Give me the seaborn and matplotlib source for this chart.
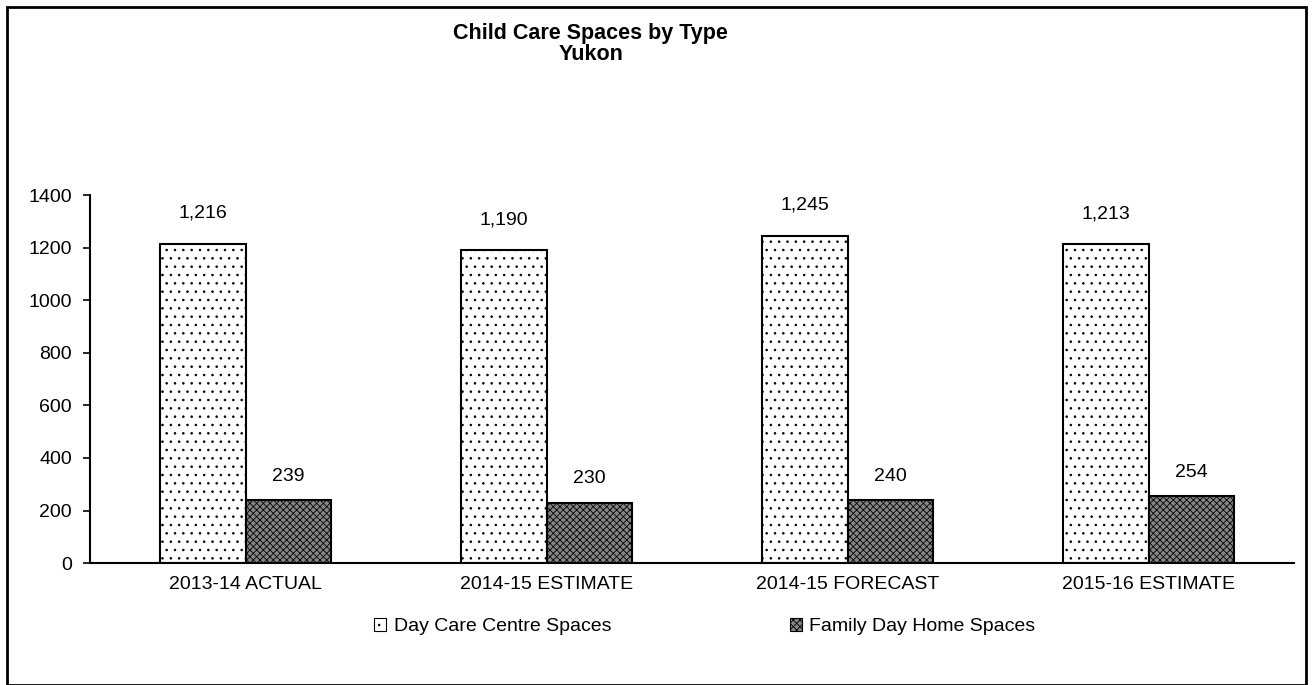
import pandas as pd
import matplotlib
matplotlib.use("Agg")
import matplotlib.pyplot as plt
import matplotlib.patches as mpatches
import seaborn as sns

periods = ["2013-14 ACTUAL", "2014-15 ESTIMATE", "2014-15 FORECAST", "2015-16 ESTIMATE"]
day_care = [1216, 1190, 1245, 1213]
family_home = [239, 230, 240, 254]
series_names = ["Day Care Centre Spaces", "Family Day Home Spaces"]

sns.set_style("white")
plt.rcParams['font.family'] = ['Liberation Sans', 'DejaVu Sans']
plt.rcParams['hatch.linewidth'] = 0.6
plt.rcParams['text.color'] = 'black'
plt.rcParams['xtick.color'] = 'black'
plt.rcParams['ytick.color'] = 'black'

df = pd.DataFrame({
    "period": periods * 2,
    "series": [series_names[0]] * 4 + [series_names[1]] * 4,
    "value": day_care + family_home,
})

fig = plt.figure(figsize=(13.13, 6.85), dpi=100)
ax = fig.add_axes([0.0685, 0.178, 0.917, 0.537])

sns.barplot(data=df, x="period", y="value", hue="series", order=periods,
            hue_order=series_names, palette=["white", "#8c8c8c"],
            width=0.57, edgecolor="black", linewidth=1.5, legend=False, ax=ax)

# dotted white bars and dark stippled bars, like the printed chart
styles = [("white", ".."), ("#858585", "xxxxx")]
pads = [16, 11]
for container, (fc, hatch), pad in zip(ax.containers, styles, pads):
    for bar in container:
        bar.set_facecolor(fc)
        bar.set_hatch(hatch)
        bar.set_edgecolor("black")
    ax.bar_label(container, labels=[f"{v:,.0f}" for v in container.datavalues],
                 padding=pad, fontsize=14)

ax.set_ylim(0, 1400)
ax.set_xlim(-0.517, 3.483)
ax.set_yticks(range(0, 1401, 200))
ax.set_xlabel("")
ax.set_ylabel("")
ax.tick_params(axis="y", direction="out", length=5, width=1.2, labelsize=14, left=True, pad=8)
ax.tick_params(axis="x", length=0, labelsize=14, pad=9)
for side in ["top", "right"]:
    ax.spines[side].set_visible(False)
for side in ["left", "bottom"]:
    ax.spines[side].set_linewidth(1.5)
    ax.spines[side].set_color("black")

fig.text(0.45, 0.966, "Child Care Spaces by Type\nYukon", ha="center", va="top",
         fontsize=15.5, fontweight="bold", linespacing=1.0)

handles = [mpatches.Patch(facecolor=fc, hatch=h, edgecolor="black", linewidth=0.8)
           for fc, h in styles]
fig.legend(handles, series_names, loc="center left", bbox_to_anchor=(0.285, 0.085), ncol=2,
           frameon=False, fontsize=14, handlelength=0.6, handleheight=0.6,
           handletextpad=0.4, columnspacing=9.2, borderpad=0, borderaxespad=0)

border = mpatches.Rectangle((0.005, 0.0), 0.99, 0.99, transform=fig.transFigure,
                            fill=False, edgecolor="black", linewidth=2)
fig.patches.append(border)

fig.savefig("out.png", dpi=100)
